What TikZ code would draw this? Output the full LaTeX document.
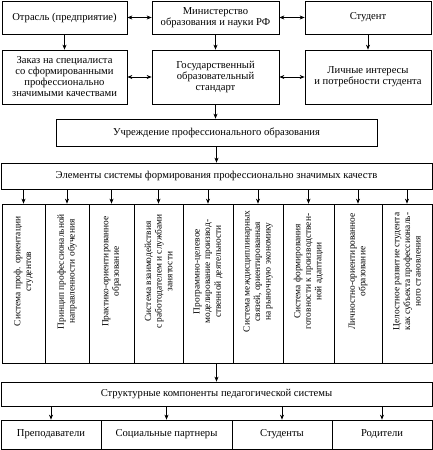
\documentclass[tikz,border=0pt]{standalone}
\usepackage{fontspec}
\setmainfont{Liberation Serif}
\usetikzlibrary{arrows.meta}
\begin{document}
\begin{tikzpicture}[x=1pt,y=-1pt,
  box/.style={draw, line width=0.7pt, inner sep=0pt, align=center,
    font=\fontsize{10.6}{11}\selectfont},
  colbox/.style={draw, line width=0.7pt, inner sep=0pt, minimum height=159pt},
  coltext/.style={rotate=90, align=center, inner sep=0pt,
    font=\fontsize{9.4}{10.6}\selectfont},
  tip/.tip={Stealth[length=5pt,width=4pt]},
  arr/.style={-tip, line width=0.7pt},
  darr/.style={tip-tip, line width=0.7pt}]
\useasboundingbox (0,0) rectangle (433,450);
% top row
\node[box, minimum width=125pt, minimum height=33pt] (A) at (64.5,17.5) {Отрасль (предприятие)};
\node[box, minimum width=127pt, minimum height=33pt] (M) at (215.5,17.5) {Министерство\\образования и науки РФ};
\node[box, minimum width=126pt, minimum height=33pt] (S) at (368,17.5) {Студент};
% second row
\node[box, minimum width=125pt, minimum height=54pt] (Z) at (64.5,77) {Заказ на специалиста\\со сформированными\\профессионально\\значимыми качествами};
\node[box, minimum width=127pt, minimum height=54pt] (G) at (215.5,77) {Государственный\\образовательный\\стандарт};
\node[box, minimum width=126pt, minimum height=54pt] (L) at (368,77) {Личные интересы\\и потребности студента};
% institution
\node[box, minimum width=321pt, minimum height=27pt] (U) at (216.5,132.5) {Учреждение профессионального образования};
\node[box, minimum width=431pt, minimum height=26pt] (E) at (216.5,176) {Элементы системы формирования профессионально значимых качеств};
% columns
\node[colbox, minimum width=43pt] (c1) at (23.5,283.5) {};
\node[colbox, minimum width=44pt] (c2) at (67,283.5) {};
\node[colbox, minimum width=45pt] (c3) at (111.5,283.5) {};
\node[colbox, minimum width=49pt] (c4) at (158.5,283.5) {};
\node[colbox, minimum width=50pt] (c5) at (208,283.5) {};
\node[colbox, minimum width=50pt] (c6) at (258,283.5) {};
\node[colbox, minimum width=51pt] (c7) at (308.5,283.5) {};
\node[colbox, minimum width=48pt] (c8) at (358,283.5) {};
\node[colbox, minimum width=50pt] (c9) at (407,283.5) {};
\node[coltext] (t1) at ([yshift=12pt]c1.center) {Система проф. ориентации\\студентов};
\node[coltext] (t2) at ([yshift=12pt]c2.center) {Принцип профессиональной\\направленности обучения};
\node[coltext] (t3) at ([yshift=12pt]c3.center) {Практико-ориентированное\\образование};
\node[coltext] (t4) at ([yshift=12pt]c4.center) {Система взаимодействия\\с работодателем и службами\\занятости};
\node[coltext] (t5) at ([yshift=12pt]c5.center) {Программно-целевое\\моделирование производ-\\ственной деятельности};
\node[coltext] (t6) at ([yshift=12pt]c6.center) {Система междисциплинарных\\связей, ориентированная\\на рыночную экономику};
\node[coltext] (t7) at ([yshift=12pt]c7.center) {Система формирования\\готовности к производствен-\\ной адаптации};
\node[coltext] (t8) at ([yshift=12pt]c8.center) {Личностно-ориентированное\\образование};
\node[coltext] (t9) at ([yshift=12pt]c9.center) {Целостное развитие студента\\как субъекта профессиональ-\\ного становления};
% structural
\node[box, minimum width=431pt, minimum height=24pt] (K) at (216.5,394) {Структурные компоненты педагогической системы};
\node[box, minimum width=100pt, minimum height=29pt] (b1) at (51,434.5) {Преподаватели};
\node[box, minimum width=131pt, minimum height=29pt] (b2) at (166.5,434.5) {Социальные партнеры};
\node[box, minimum width=100pt, minimum height=29pt] (b3) at (282,434.5) {Студенты};
\node[box, minimum width=100pt, minimum height=29pt] (b4) at (382,434.5) {Родители};
% connectors
\draw[darr] (A) -- (M);
\draw[darr] (M) -- (S);
\draw[darr] (Z) -- (G);
\draw[darr] (G) -- (L);
\draw[arr] (A) -- (Z);
\draw[arr] (M) -- (G);
\draw[arr] (S) -- (L);
\draw[arr] (G.south) -- (G.south |- U.north);
\draw[arr] (U.south) -- (E.north);
\foreach \i in {1,...,9} \draw[arr] (c\i.north |- E.south) -- (c\i.north);
\draw[arr] (K.north |- c5.south) -- (K.north);
\foreach \i in {1,...,4} \draw[arr] (b\i.north |- K.south) -- (b\i.north);
\end{tikzpicture}
\end{document}
